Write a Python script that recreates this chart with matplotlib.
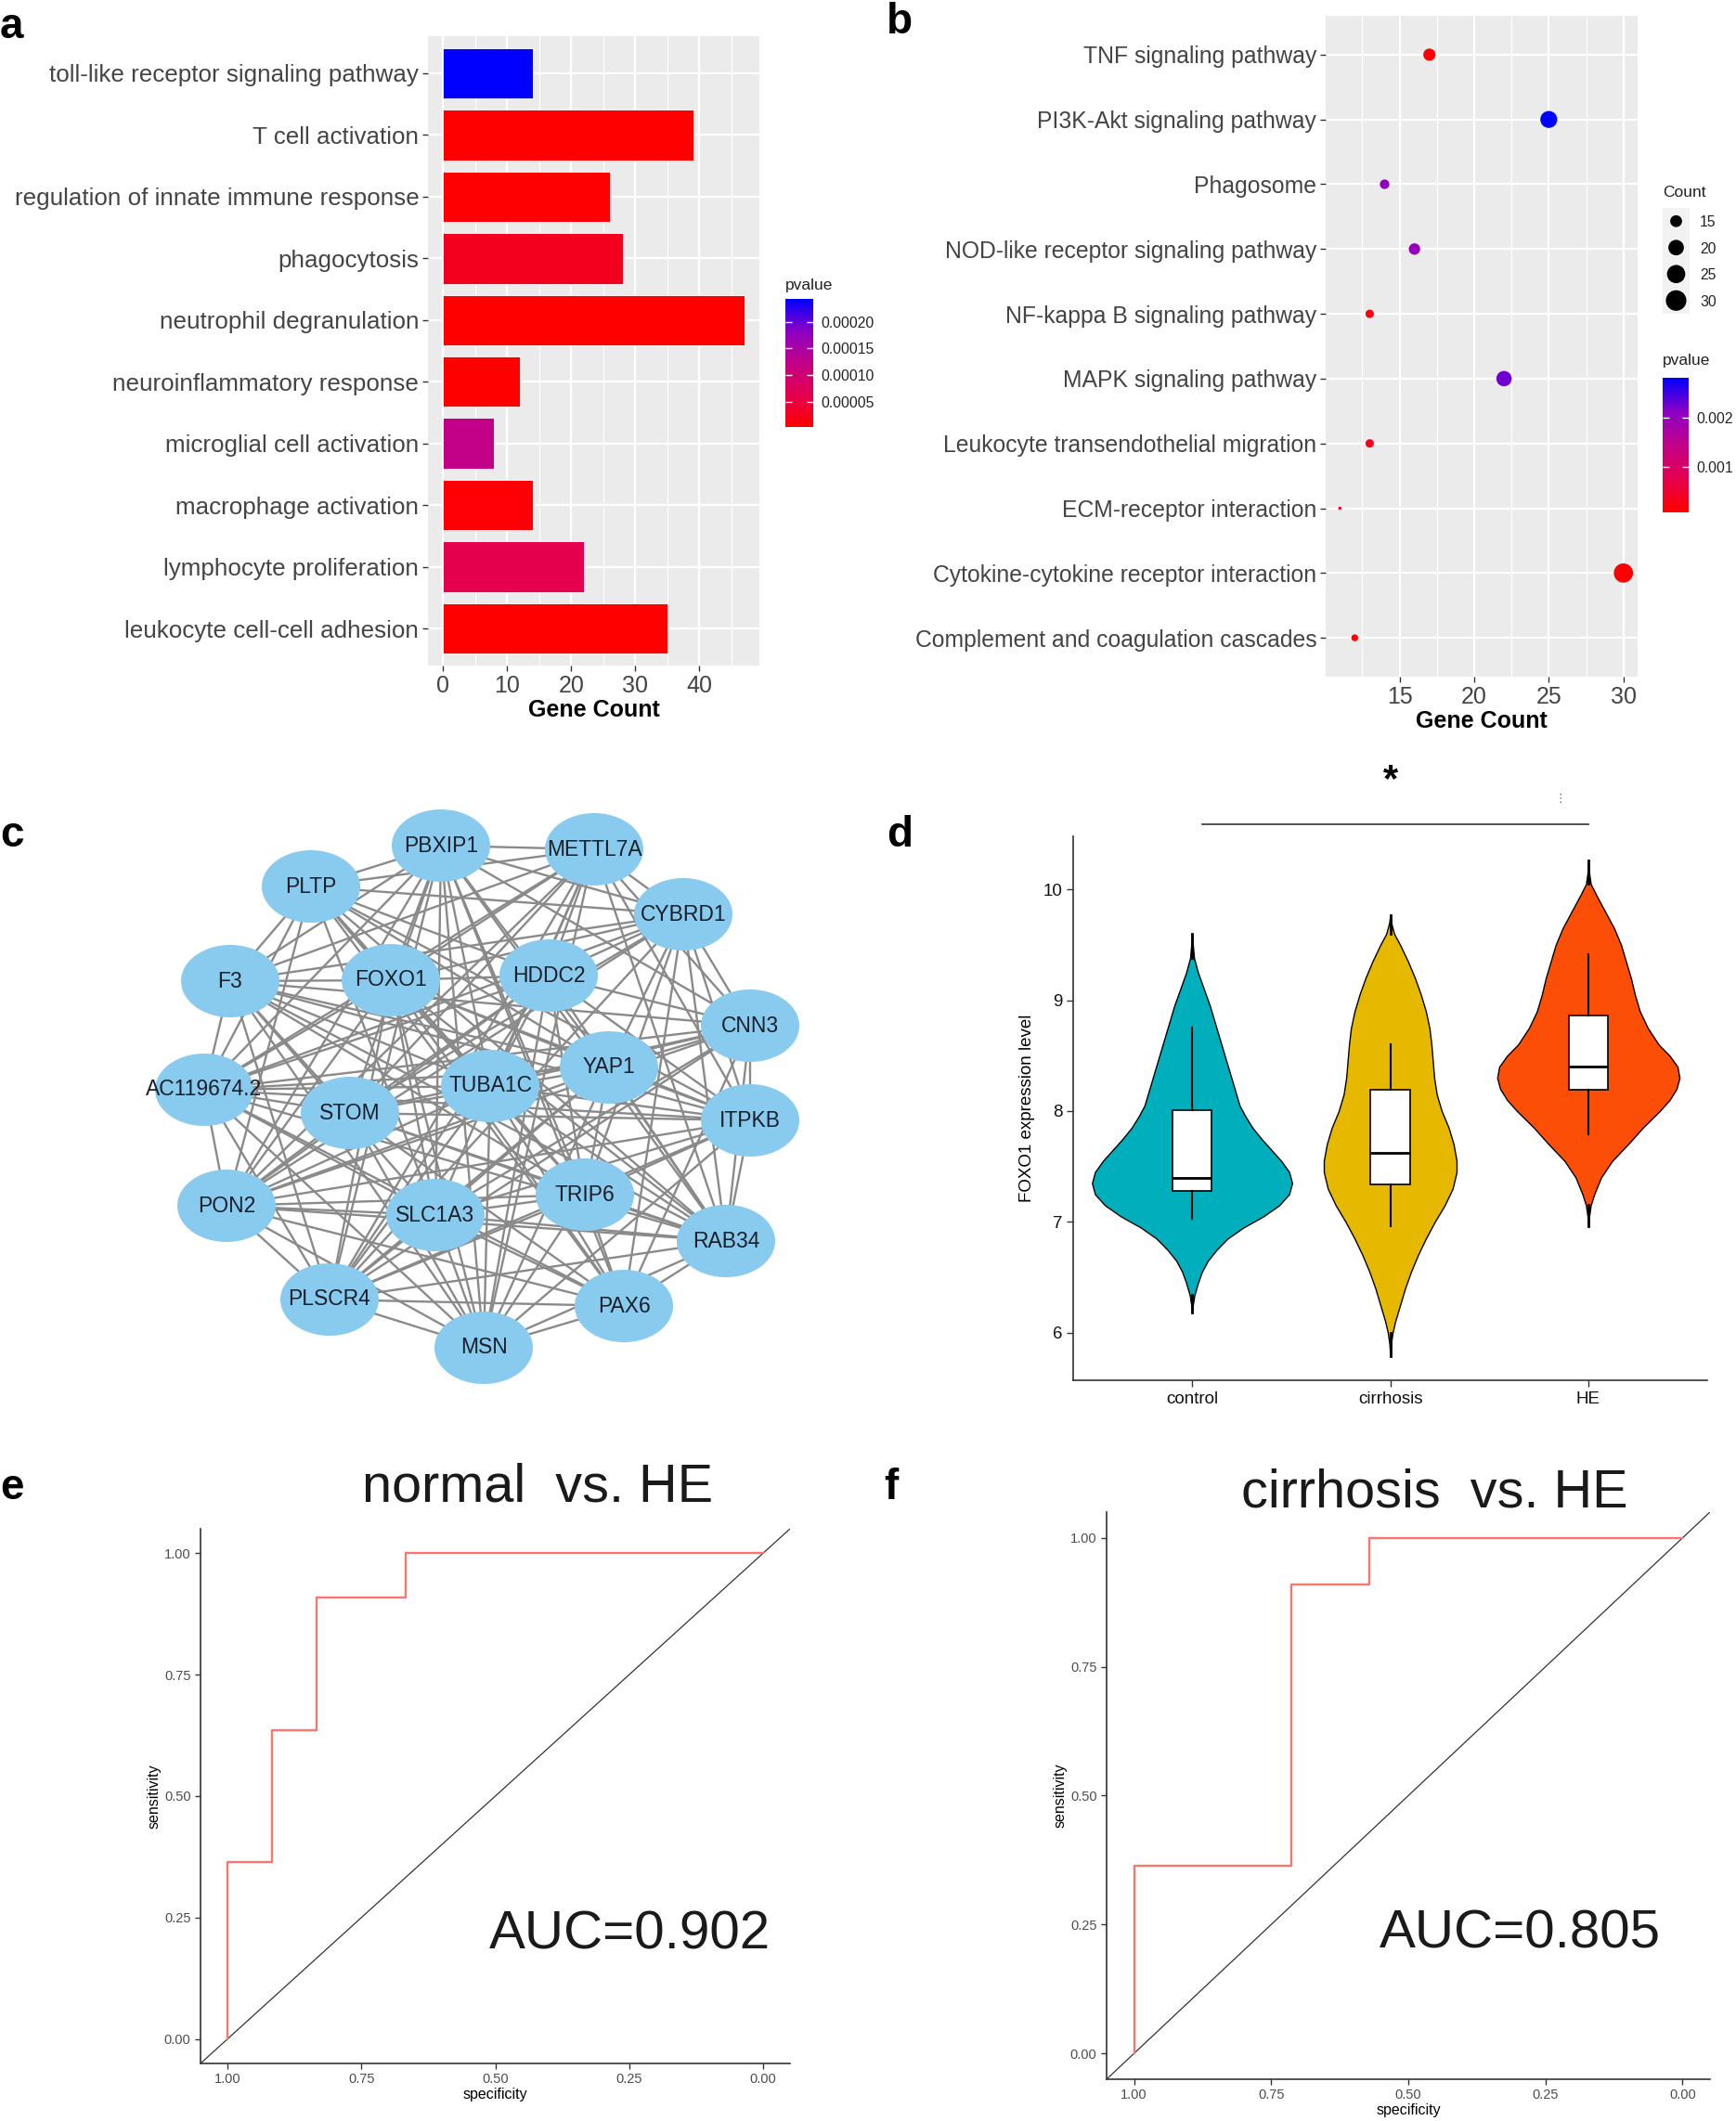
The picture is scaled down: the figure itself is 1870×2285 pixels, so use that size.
import numpy as np
import matplotlib
matplotlib.use("Agg")
import matplotlib.pyplot as plt
from matplotlib.colors import LinearSegmentedColormap, Normalize
from matplotlib.cm import ScalarMappable
from matplotlib.patches import Ellipse
from matplotlib.ticker import MultipleLocator

plt.rcParams['font.family'] = ['Liberation Sans', 'DejaVu Sans']

W, H = 1870, 2285

# ---- panel a: GO terms
go_terms = ["toll-like receptor signaling pathway", "T cell activation",
            "regulation of innate immune response", "phagocytosis",
            "neutrophil degranulation", "neuroinflammatory response",
            "microglial cell activation", "macrophage activation",
            "lymphocyte proliferation", "leukocyte cell-cell adhesion"]
go_counts = [14, 39, 26, 28, 47, 12, 8, 14, 22, 35]
go_pvalues = [0.000243, 0.000003, 0.000005, 0.000026, 0.0000024,
              0.000004, 0.000123, 0.000006, 0.000062, 0.000003]
go_cbar_ticks = [0.00005, 0.00010, 0.00015, 0.00020]

# ---- panel b: KEGG pathways
kegg_terms = ["TNF signaling pathway", "PI3K-Akt signaling pathway", "Phagosome",
              "NOD-like receptor signaling pathway", "NF-kappa B signaling pathway",
              "MAPK signaling pathway", "Leukocyte transendothelial migration",
              "ECM-receptor interaction", "Cytokine-cytokine receptor interaction",
              "Complement and coagulation cascades"]
kegg_counts = [17, 25, 14, 16, 13, 22, 13, 11, 30, 12]
kegg_pvalues = [0.00010, 0.00280, 0.00205, 0.00200, 0.00018,
                0.00225, 0.00030, 0.00032, 0.00008, 0.00015]
kegg_size_breaks = [15, 20, 25, 30]
kegg_cbar_ticks = [0.001, 0.002]

# ---- panel c: network
genes = ["PBXIP1", "METTL7A", "PLTP", "CYBRD1", "F3", "FOXO1", "HDDC2", "CNN3",
         "YAP1", "TUBA1C", "AC119674.2", "STOM", "ITPKB", "PON2", "SLC1A3",
         "TRIP6", "RAB34", "PLSCR4", "PAX6", "MSN"]
gene_x = [475, 640, 335, 736, 248, 421, 591, 808, 656, 528,
          220, 377, 808, 244, 469, 630, 782, 355, 672, 521]
gene_y = [911, 915, 955, 985, 1057, 1056, 1051, 1105, 1150, 1170,
          1174, 1199, 1207, 1299, 1309, 1287, 1337, 1400, 1407, 1452]
gene_links = [
    [1, 2, 3, 4, 5, 7, 8, 9, 10, 11, 13, 14, 15, 16, 17, 18, 19],
    [2, 3, 4, 5, 6, 7, 9, 10, 11, 12, 13, 14, 16, 17, 19],
    [3, 4, 5, 6, 8, 9, 10, 12, 13, 14, 15, 16, 18],
    [4, 5, 6, 7, 8, 10, 11, 12, 13, 15, 16, 17, 18],
    [5, 7, 8, 9, 10, 11, 12, 14, 15, 16, 17, 19],
    [6, 8, 10, 12, 13, 14, 15, 16, 17, 18, 19],
    [7, 9, 10, 11, 12, 13, 15, 16, 17, 19],
    [8, 9, 10, 11, 12, 13, 14, 16, 17, 18],
    [10, 11, 12, 13, 14, 15, 16, 17, 19],
    [10, 12, 13, 15, 16, 17, 18, 19],
    [11, 12, 13, 14, 16, 17, 18, 19],
    [12, 13, 15, 16, 18, 19],
    [13, 14, 15, 16, 17, 19],
    [14, 15, 16, 17, 18, 19],
    [15, 16, 17, 18, 19],
    [16, 17, 18, 19],
    [17, 18, 19],
    [18, 19],
    [19],
    [],
]

# ---- panel d: FOXO1 violins (half-width outline)
groups = ["control", "cirrhosis", "HE"]
group_colors = ["#00AFBB", "#E7B800", "#FC4E07"]
ctrl_y = [6.18, 6.25, 6.34, 6.45, 6.55, 6.65, 6.75, 6.85, 6.95, 7.05, 7.15, 7.25,
          7.35, 7.45, 7.55, 7.65, 7.75, 7.85, 7.95, 8.05, 8.2, 8.35, 8.5, 8.65,
          8.8, 8.95, 9.1, 9.25, 9.38, 9.5, 9.6]
ctrl_w = [0.0, 0.004, 0.012, 0.03, 0.05, 0.08, 0.125, 0.18, 0.26, 0.36, 0.44, 0.49,
          0.505, 0.49, 0.45, 0.40, 0.35, 0.305, 0.27, 0.24, 0.215, 0.19, 0.165, 0.14,
          0.115, 0.09, 0.06, 0.03, 0.01, 0.004, 0.0]
cirr_y = [5.79, 5.9, 6.0, 6.1, 6.25, 6.4, 6.55, 6.7, 6.85, 7.0, 7.15, 7.3, 7.45,
          7.55, 7.7, 7.85, 8.0, 8.15, 8.3, 8.45, 8.6, 8.75, 8.9, 9.05, 9.2, 9.35,
          9.5, 9.6, 9.7, 9.77]
cirr_w = [0.0, 0.004, 0.012, 0.025, 0.05, 0.075, 0.105, 0.14, 0.18, 0.225, 0.275,
          0.315, 0.335, 0.335, 0.32, 0.295, 0.26, 0.235, 0.222, 0.215, 0.208, 0.198,
          0.18, 0.155, 0.125, 0.09, 0.05, 0.02, 0.005, 0.0]
he_y = [6.96, 7.05, 7.15, 7.25, 7.4, 7.55, 7.7, 7.85, 8.0, 8.1, 8.2, 8.3, 8.4,
        8.5, 8.6, 8.75, 8.9, 9.05, 9.2, 9.35, 9.5, 9.65, 9.8, 9.95, 10.05, 10.15, 10.26]
he_w = [0.0, 0.004, 0.012, 0.03, 0.064, 0.12, 0.2, 0.275, 0.36, 0.41, 0.445, 0.46,
        0.45, 0.41, 0.355, 0.30, 0.26, 0.235, 0.215, 0.19, 0.165, 0.13, 0.085, 0.04,
        0.012, 0.004, 0.0]
box_q1 = [7.28, 7.34, 8.19]
box_med = [7.40, 7.62, 8.40]
box_q3 = [8.01, 8.19, 8.86]
box_lo = [7.03, 6.96, 7.79]
box_hi = [8.75, 8.60, 9.42]

# ---- panels e, f: ROC curves
roc_e_spec = [1.0, 1.0, 0.917, 0.917, 0.833, 0.833, 0.667, 0.667, 0.0]
roc_e_sens = [0.0, 0.364, 0.364, 0.636, 0.636, 0.909, 0.909, 1.0, 1.0]
roc_f_spec = [1.0, 1.0, 0.714, 0.714, 0.571, 0.571, 0.0]
roc_f_sens = [0.0, 0.364, 0.364, 0.909, 0.909, 1.0, 1.0]
roc_ticks = [0.0, 0.25, 0.5, 0.75, 1.0]

pcmap = LinearSegmentedColormap.from_list(
    "pv", [(0, "#FF0000"), (0.25, "#E4004E"), (0.5, "#C20088"),
           (0.75, "#8C00C6"), (1, "#0000FF")])


def frac(x0, y0, x1, y1):
    return [x0 / W, 1 - y1 / H, (x1 - x0) / W, (y1 - y0) / H]


def gg_grey(ax):
    ax.set_facecolor("#EBEBEB")
    for s in ax.spines.values():
        s.set_visible(False)
    ax.set_axisbelow(True)
    ax.grid(which="major", color="white", lw=1.6)
    ax.grid(which="minor", axis="x", color="white", lw=0.8)
    ax.tick_params(which="major", length=4, color="#333333", width=1,
                   labelcolor="#444444", pad=3)
    ax.tick_params(which="minor", length=0)


def pv_colorbar(cax, norm, ticks, fmt):
    cb = plt.colorbar(ScalarMappable(norm=norm, cmap=pcmap), cax=cax)
    cb.outline.set_visible(False)
    cb.set_ticks(ticks)
    cb.set_ticklabels([fmt % t for t in ticks])
    cax.tick_params(axis="y", direction="in", left=True, right=True,
                    color="white", length=5, width=1, labelsize=11.3,
                    labelcolor="#222222", pad=6)


fig = plt.figure(figsize=(W / 100, H / 100), dpi=100)

# ================= panel a
ax_a = fig.add_axes(frac(461, 39, 818, 717))
gg_grey(ax_a)
ya = np.arange(len(go_terms))[::-1]
norm_a = Normalize(min(go_pvalues), max(go_pvalues))
ax_a.barh(ya, go_counts, height=0.82, color=pcmap(norm_a(go_pvalues)),
          edgecolor="white", linewidth=0.6)
ax_a.set_yticks(ya)
ax_a.set_yticklabels(go_terms, fontsize=18.7)
ax_a.set_ylim(-0.6, len(go_terms) - 0.4)
ax_a.set_xlim(-2.35, 49.35)
ax_a.set_xticks([0, 10, 20, 30, 40])
ax_a.xaxis.set_minor_locator(MultipleLocator(5))
ax_a.tick_params(axis="x", labelsize=18)
ax_a.set_xlabel("Gene Count", fontsize=18, fontweight="bold", labelpad=2)

cax_a = fig.add_axes(frac(846, 322, 876, 460))
pv_colorbar(cax_a, norm_a, go_cbar_ticks, "%.5f")
fig.text(846 / W, 1 - 307 / H, "pvalue", fontsize=12.5, va="center", color="#222222")

# ================= panel b
ax_b = fig.add_axes(frac(1428, 17, 1764, 729))
gg_grey(ax_b)
yb = np.arange(len(kegg_terms))[::-1]
norm_b = Normalize(min(kegg_pvalues), max(kegg_pvalues))
kc = np.array(kegg_counts, dtype=float)


def gg_size(v):
    v = np.asarray(v, dtype=float)
    size = 1 + 5 * np.sqrt((v - kc.min()) / (kc.max() - kc.min()))
    return (size * 3.45 * 0.72) ** 2


ax_b.scatter(kegg_counts, yb, s=gg_size(kegg_counts),
             c=pcmap(norm_b(kegg_pvalues)), edgecolors="none", zorder=3)
ax_b.set_yticks(yb)
ax_b.set_yticklabels(kegg_terms, fontsize=17.8)
ax_b.set_ylim(-0.6, len(kegg_terms) - 0.4)
ax_b.set_xlim(10.05, 30.95)
ax_b.set_xticks([15, 20, 25, 30])
ax_b.xaxis.set_minor_locator(MultipleLocator(2.5))
ax_b.tick_params(axis="x", labelsize=18)
ax_b.set_xlabel("Gene Count", fontsize=18, fontweight="bold", labelpad=2)

lax = fig.add_axes(frac(1791, 224, 1820, 338))
lax.set_facecolor("#F2F2F2")
for s in lax.spines.values():
    s.set_visible(False)
ly = np.arange(len(kegg_size_breaks))[::-1]
lax.scatter([0.5] * len(ly), ly, s=gg_size(kegg_size_breaks), color="black")
lax.set_xlim(0, 1)
lax.set_ylim(-0.5, len(ly) - 0.5)
lax.set_xticks([])
lax.yaxis.tick_right()
lax.set_yticks(ly)
lax.set_yticklabels([str(v) for v in kegg_size_breaks], fontsize=11.3, color="#222222")
lax.tick_params(axis="y", length=0, pad=8)
fig.text(1791 / W, 1 - 207 / H, "Count", fontsize=12.5, va="center", color="#222222")

cax_b = fig.add_axes(frac(1791, 407, 1819, 552))
pv_colorbar(cax_b, norm_b, kegg_cbar_ticks, "%.3f")
fig.text(1791 / W, 1 - 389 / H, "pvalue", fontsize=12.5, va="center", color="#222222")

# ================= panel c
ax_c = fig.add_axes(frac(140, 860, 880, 1510))
ax_c.set_xlim(140, 880)
ax_c.set_ylim(1510, 860)
ax_c.axis("off")
for i, nbrs in enumerate(gene_links):
    for j in nbrs:
        ax_c.plot([gene_x[i], gene_x[j]], [gene_y[i], gene_y[j]],
                  color="#8A8A8A", lw=1.7, zorder=1, solid_capstyle="round")
for gx, gy, g in zip(gene_x, gene_y, genes):
    ax_c.add_patch(Ellipse((gx, gy), 106, 78, facecolor="#88CBEF",
                           edgecolor="none", zorder=2))
    ax_c.text(gx, gy, g, ha="center", va="center", fontsize=16.5,
              color="#1B1F2A", zorder=3)

# ================= panel d
ax_d = fig.add_axes(frac(1156, 901, 1839, 1487))
profiles = [(ctrl_y, ctrl_w), (cirr_y, cirr_w), (he_y, he_w)]
for k, (py, pw) in enumerate(profiles):
    pos = k + 1
    pw = np.asarray(pw)
    ax_d.fill_betweenx(py, pos - pw, pos + pw, facecolor=group_colors[k],
                       edgecolor="black", lw=1.0, zorder=2)
    # thin tails of the violin show as a black line
    ax_d.plot([pos, pos], [py[0], py[2]], color="black", lw=2, zorder=2.5)
    ax_d.plot([pos, pos], [py[-3], py[-1]], color="black", lw=2, zorder=2.5)
stats = [dict(med=m, q1=a, q3=b, whislo=lo, whishi=hi, fliers=[])
         for m, a, b, lo, hi in zip(box_med, box_q1, box_q3, box_lo, box_hi)]
ax_d.bxp(stats, positions=[1, 2, 3], widths=0.2, showfliers=False, showcaps=False,
         patch_artist=True, boxprops=dict(facecolor="white", edgecolor="black", lw=1.2),
         medianprops=dict(color="black", lw=2), whiskerprops=dict(color="black", lw=1.5),
         zorder=3)
ax_d.set_xlim(0.4, 3.6)
ax_d.set_ylim(5.57, 10.48)
ax_d.set_xticks([1, 2, 3])
ax_d.set_xticklabels(groups, fontsize=13.5)
ax_d.set_yticks([6, 7, 8, 9, 10])
ax_d.tick_params(axis="y", labelsize=13.5)
ax_d.tick_params(length=5, width=1, color="#333333", labelcolor="#111111")
ax_d.set_ylabel("FOXO1 expression level", fontsize=13.5, labelpad=6)
for s in ["top", "right"]:
    ax_d.spines[s].set_visible(False)
for s in ["left", "bottom"]:
    ax_d.spines[s].set_linewidth(1.2)
    ax_d.spines[s].set_color("#333333")
ax_d.plot([1.05, 3.0], [10.59, 10.59], color="#333333", lw=1.2, clip_on=False)
ax_d.text(2.0, 10.98, "*", ha="center", va="center", fontsize=30, fontweight="bold")
ax_d.text(2.86, 10.82, "\u22ee", ha="center", va="center", fontsize=9,
          color="#4A74B0", family="DejaVu Sans")


# ================= panels e, f
def roc_panel(box, spec, sens, title, title_xy, auc, auc_xy):
    ax = fig.add_axes(frac(*box))
    ax.plot(spec, sens, color="#F8766D", lw=1.7, zorder=3)
    ax.axline((1, 0), (0, 1), color="#333333", lw=0.9, zorder=2)
    ax.set_xlim(1.05, -0.05)
    ax.set_ylim(-0.05, 1.05)
    ax.set_xticks(roc_ticks)
    ax.set_yticks(roc_ticks)
    ax.set_xticklabels(["%.2f" % t for t in roc_ticks])
    ax.set_yticklabels(["%.2f" % t for t in roc_ticks])
    ax.tick_params(labelsize=10.5, labelcolor="#4D4D4D", color="#333333",
                   length=4, width=1)
    ax.set_xlabel("specificity", fontsize=11.5, labelpad=1)
    ax.set_ylabel("sensitivity", fontsize=11.5, labelpad=2)
    for s in ["top", "right"]:
        ax.spines[s].set_visible(False)
    for s in ["left", "bottom"]:
        ax.spines[s].set_linewidth(1.2)
        ax.spines[s].set_color("#333333")
    fig.text(title_xy[0] / W, 1 - title_xy[1] / H, title, fontsize=41.5,
             ha="center", va="center", color="#1A1A1A")
    ax.text(auc_xy[0], auc_xy[1], auc, fontsize=42, ha="center", va="center",
            color="#1A1A1A")
    return ax


roc_panel((216, 1647, 851, 2223), roc_e_spec, roc_e_sens, "normal  vs. HE",
          (579, 1602), "AUC=0.902", (0.249, 0.215))
roc_panel((1192, 1629, 1842, 2240), roc_f_spec, roc_f_sens, "cirrhosis  vs. HE",
          (1545, 1609), "AUC=0.805", (0.297, 0.231))

# panel letters
for lab, x, y in [("a", 0, 41), ("b", 955, 36), ("c", 0, 912),
                  ("d", 955, 912), ("e", 0, 1615), ("f", 952, 1615)]:
    fig.text(x / W, 1 - y / H, lab, fontsize=33, fontweight="bold",
             va="baseline", ha="left")

fig.savefig("out.png", dpi=100)
